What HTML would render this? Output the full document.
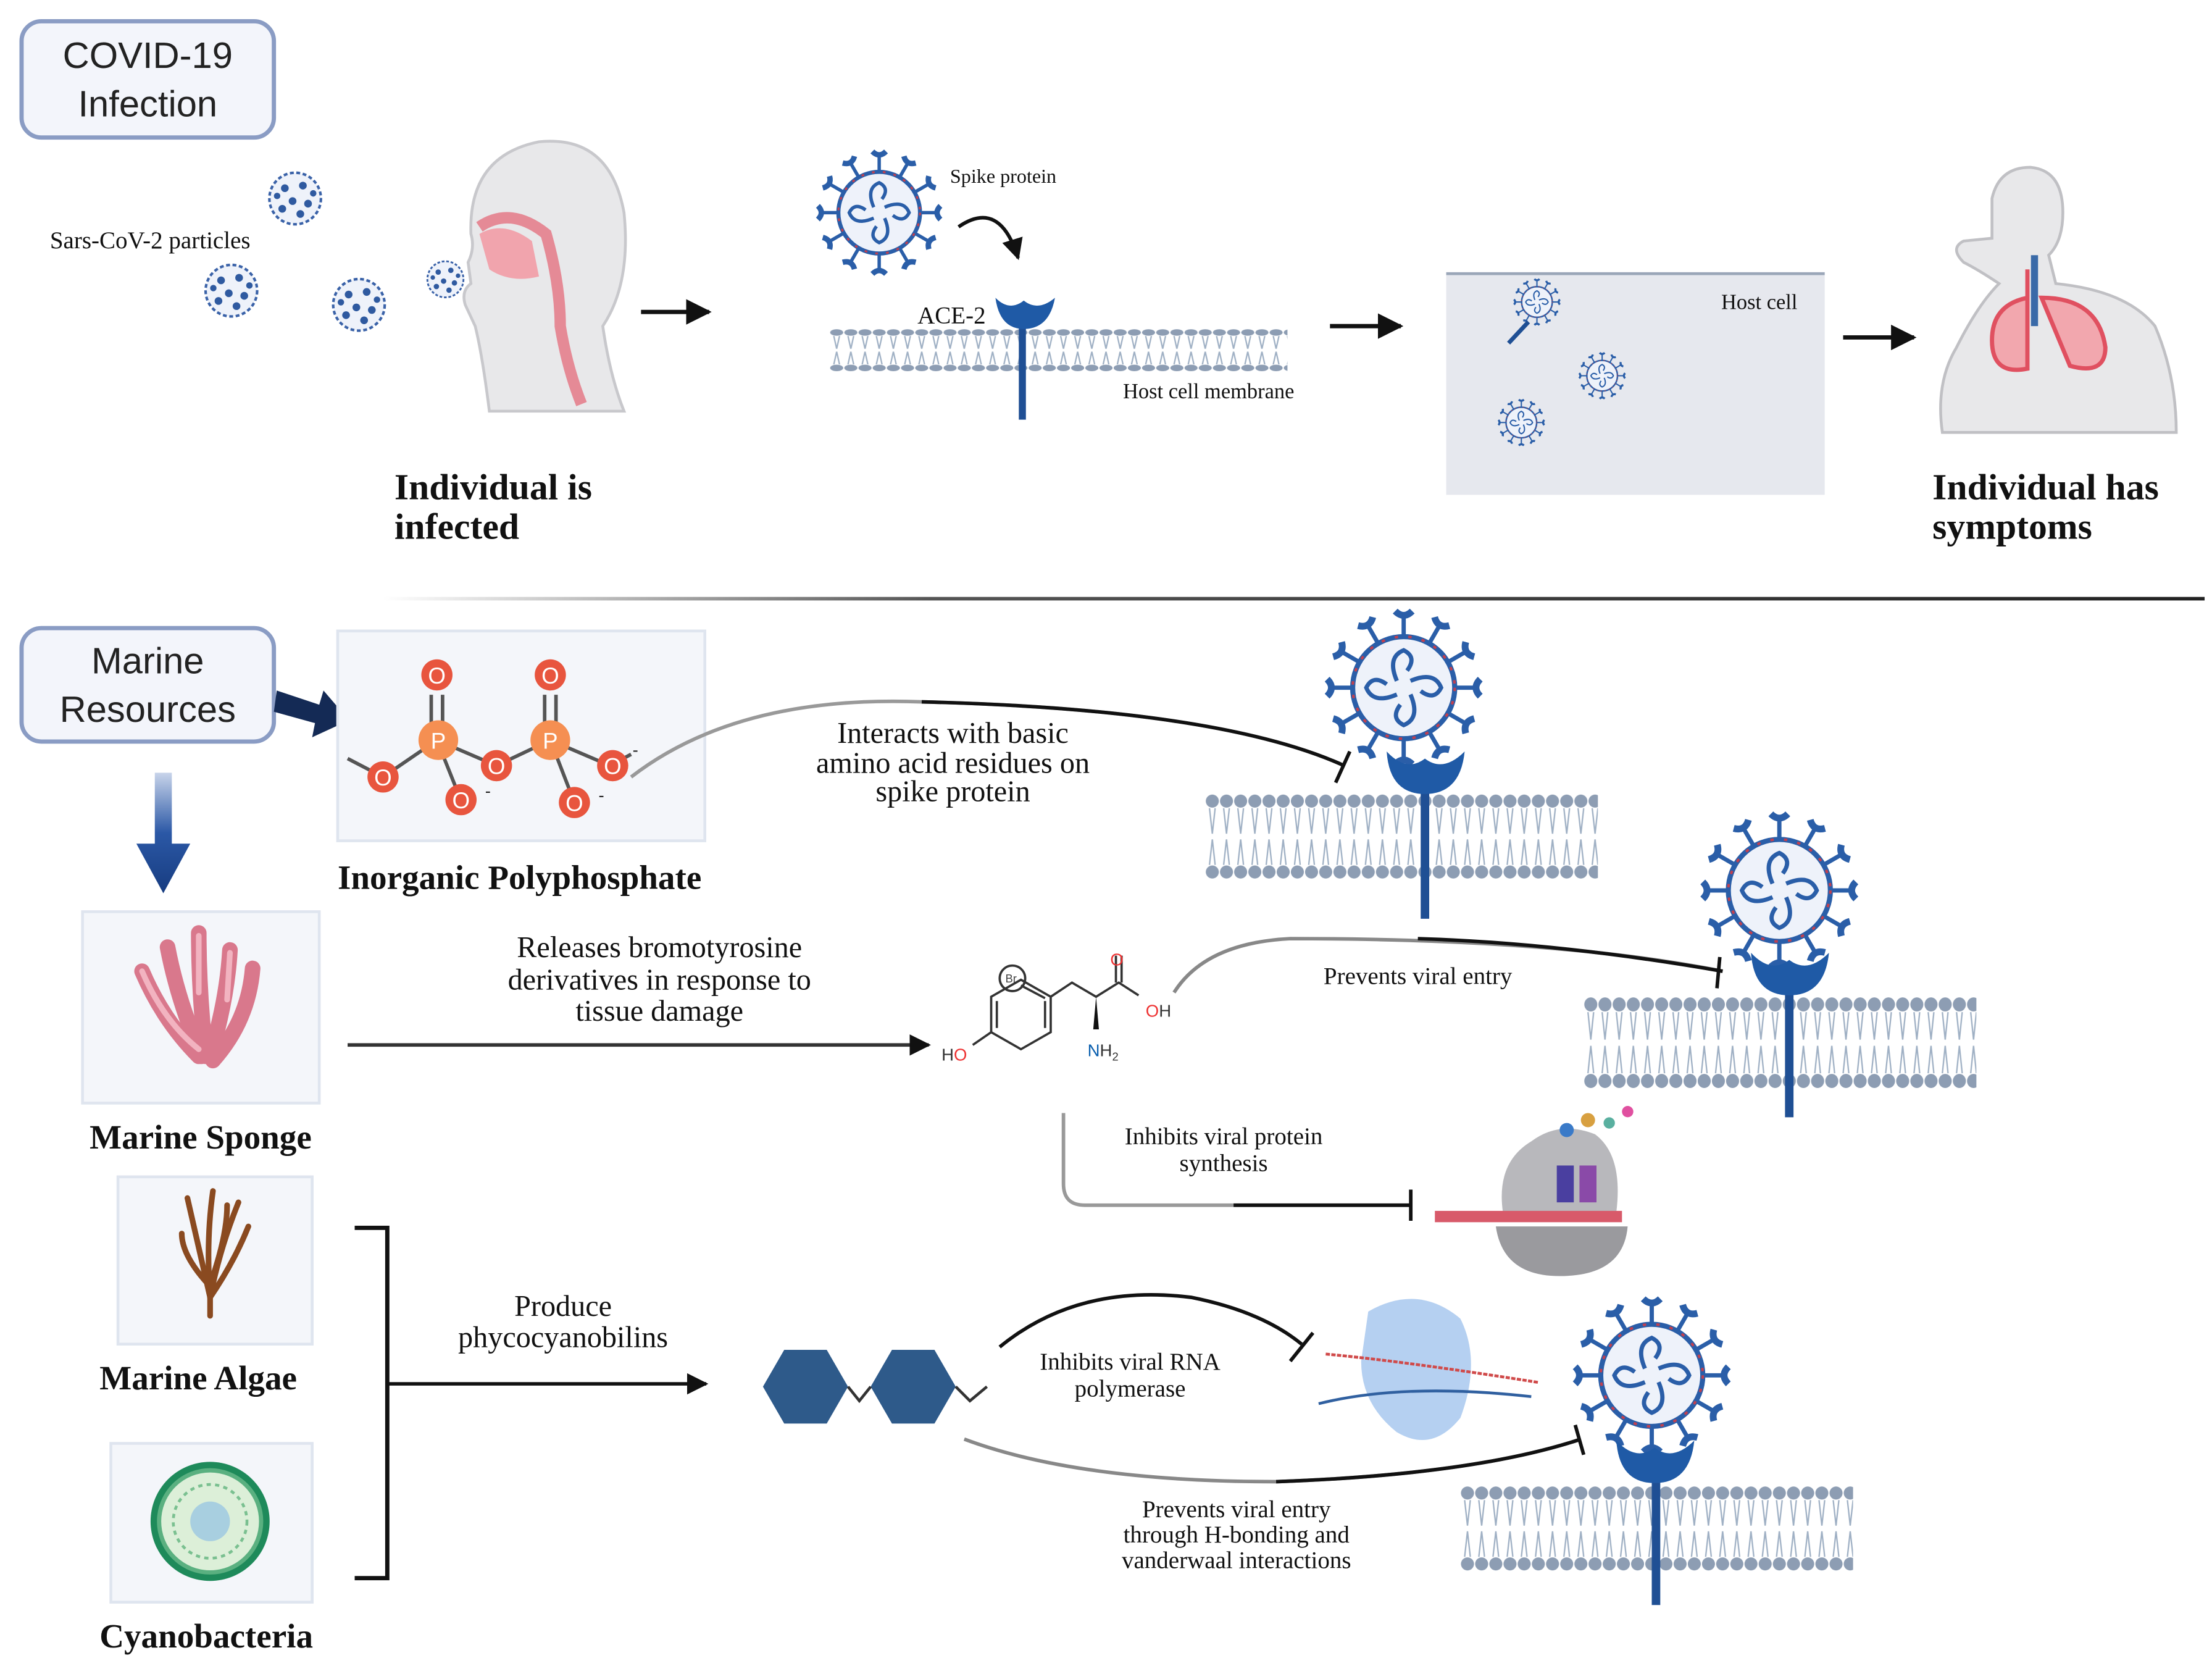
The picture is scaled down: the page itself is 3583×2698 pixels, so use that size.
<!DOCTYPE html>
<html><head><meta charset="utf-8"><style>
html,body{margin:0;padding:0;background:#fff}
svg{display:block}
.s{font-family:"Liberation Serif",serif;fill:#111}
.b{font-family:"Liberation Serif",serif;font-weight:bold;fill:#111}
.n{font-family:"Liberation Sans",sans-serif;fill:#222}
</style></head><body>
<svg width="3583" height="2698" viewBox="0 0 1560 1175" xmlns="http://www.w3.org/2000/svg">
<defs>
<symbol id="vir" viewBox="-50 -50 100 100">
 <g stroke="#2a5ea8" stroke-width="2.5" fill="none">
  <g id="sp"><line x1="0" y1="-30" x2="0" y2="-42"/><path d="M-5,-45 Q0,-40 5,-45" stroke-width="4"/></g>
  <use href="#sp" transform="rotate(30)"/><use href="#sp" transform="rotate(60)"/><use href="#sp" transform="rotate(90)"/>
  <use href="#sp" transform="rotate(120)"/><use href="#sp" transform="rotate(150)"/><use href="#sp" transform="rotate(180)"/>
  <use href="#sp" transform="rotate(210)"/><use href="#sp" transform="rotate(240)"/><use href="#sp" transform="rotate(270)"/>
  <use href="#sp" transform="rotate(300)"/><use href="#sp" transform="rotate(330)"/>
 </g>
 <circle r="30" fill="#eef2fa" stroke="#2a5ea8" stroke-width="3"/>
 <circle r="30" fill="none" stroke="#c04050" stroke-width="1.5" stroke-dasharray="2 6"/>
 <g stroke="#2a5ea8" stroke-width="2.5" fill="none">
  <path d="M-4,-4 q-6,-14 4,-18 q8,4 2,12"/><path d="M4,-4 q14,-6 18,4 q-4,8 -12,2"/>
  <path d="M4,4 q6,14 -4,18 q-8,-4 -2,-12"/><path d="M-4,4 q-14,6 -18,-4 q4,-8 12,-2"/>
 </g>
</symbol>
<symbol id="dot" viewBox="-22 -22 44 44">
 <circle r="20" fill="#eef2fa" stroke="#3a62a8" stroke-width="2" stroke-dasharray="3 2"/>
 <g fill="#2f5aa0"><circle cx="-8" cy="-8" r="3"/><circle cx="6" cy="-10" r="3"/><circle cx="10" cy="4" r="3"/><circle cx="-2" cy="2" r="3"/><circle cx="-10" cy="8" r="3"/><circle cx="4" cy="12" r="3"/><circle cx="-14" cy="-2" r="2.5"/><circle cx="14" cy="-4" r="2.5"/></g>
</symbol>
<pattern id="lip" width="10" height="60" patternUnits="userSpaceOnUse">
 <g stroke="#9fb0c4" stroke-width="1" fill="none"><path d="M3,10 L5,28 M7,10 L5,28 M3,50 L5,32 M7,50 L5,32"/></g>
 <circle cx="5" cy="5" r="4.6" fill="#8d9db3"/><circle cx="5" cy="55" r="4.6" fill="#8d9db3"/>
</pattern>
<marker id="ar" viewBox="0 0 10 10" refX="9" refY="5" markerWidth="6" markerHeight="6" orient="auto"><path d="M0,0 L10,5 L0,10 z" fill="#111"/></marker>
</defs>

<rect x="15" y="15" width="178" height="82" rx="14" fill="#f3f5fb" stroke="#8a9cc4" stroke-width="3"/>
<text class="n" x="104" y="48" font-size="26" text-anchor="middle">COVID-19</text>
<text class="n" x="104" y="82" font-size="26" text-anchor="middle">Infection</text>

<use href="#dot" x="188" y="120" width="40" height="40"/>
<use href="#dot" x="143" y="185" width="40" height="40"/>
<use href="#dot" x="233" y="195" width="40" height="40"/>
<use href="#dot" x="300" y="183" width="28" height="28"/>
<text class="s" x="35" y="175" font-size="17">Sars-CoV-2 particles</text>

<path d="M345,290 Q340,250 335,230 L328,215 Q325,205 332,200 L330,185 Q335,175 332,165 Q330,110 380,100 Q430,95 440,150 Q445,200 425,230 Q430,265 440,290 Z" fill="#e8e8ea" stroke="#c8c8cc" stroke-width="2"/>
<path d="M338,160 Q360,145 385,165 Q395,200 395,230 Q400,260 410,285" fill="none" stroke="#e58a96" stroke-width="8"/>
<path d="M338,165 Q355,155 375,170 L380,195 Q360,200 345,190 Z" fill="#f1a4ad"/>

<line x1="452" y1="220" x2="500" y2="220" stroke="#111" stroke-width="3" marker-end="url(#ar)"/>

<use href="#vir" x="572" y="102" width="96" height="96"/>
<text class="s" x="670" y="129" font-size="14">Spike protein</text>
<path d="M676,160 Q705,140 718,182" fill="none" stroke="#111" stroke-width="2.5" marker-end="url(#ar)"/>
<text class="s" x="647" y="228" font-size="17">ACE-2</text>
<g transform="translate(585,232) scale(1,0.5)"><rect width="323" height="60" fill="url(#lip)"/></g>
<line x1="721" y1="222" x2="721" y2="296" stroke="#1f4f94" stroke-width="5"/>
<path d="M702,210 Q705,232 722,232 Q740,232 744,210 Q732,220 722,212 Q712,220 702,210 Z" fill="#1f5aa6"/>
<text class="s" x="792" y="281" font-size="15">Host cell membrane</text>

<line x1="938" y1="230" x2="988" y2="230" stroke="#111" stroke-width="3" marker-end="url(#ar)"/>
<rect x="1020" y="192" width="267" height="157" fill="#e6e8ee"/>
<line x1="1020" y1="193" x2="1287" y2="193" stroke="#9aa6b8" stroke-width="2"/>
<text class="s" x="1214" y="218" font-size="15">Host cell</text>
<use href="#vir" x="1066" y="195" width="36" height="36"/>
<line x1="1078" y1="227" x2="1064" y2="242" stroke="#1f4f94" stroke-width="3"/>
<use href="#vir" x="1112" y="247" width="36" height="36"/>
<use href="#vir" x="1055" y="280" width="36" height="36"/>

<line x1="1300" y1="238" x2="1350" y2="238" stroke="#111" stroke-width="3" marker-end="url(#ar)"/>
<path d="M1405,140 Q1410,118 1432,118 Q1455,120 1455,150 Q1455,170 1445,180 L1450,200 Q1500,205 1520,230 Q1535,265 1535,305 L1370,305 Q1365,270 1380,245 Q1395,215 1410,200 Q1395,190 1385,185 Q1375,175 1385,170 L1405,168 Z" fill="#e8e8ea" stroke="#c0c0c4" stroke-width="2"/>
<path d="M1430,190 L1430,210 M1430,210 Q1405,215 1405,240 Q1405,265 1430,260 Z M1440,210 Q1480,210 1485,245 Q1485,265 1460,258 Z" fill="#f2a7ae" stroke="#e05060" stroke-width="3"/>
<line x1="1435" y1="180" x2="1435" y2="230" stroke="#3a6aa8" stroke-width="5"/>

<text class="b" x="278" y="352" font-size="26">Individual is</text>
<text class="b" x="278" y="380" font-size="26">infected</text>
<text class="b" x="1363" y="352" font-size="26">Individual has</text>
<text class="b" x="1363" y="380" font-size="26">symptoms</text>

<defs><linearGradient id="dl" x1="0" x2="1"><stop offset="0" stop-color="#fff"/><stop offset="0.3" stop-color="#555"/><stop offset="1" stop-color="#222"/></linearGradient></defs>
<rect x="270" y="421" width="1285" height="2.5" fill="url(#dl)"/>

<rect x="15" y="443" width="178" height="80" rx="14" fill="#f3f5fb" stroke="#8a9cc4" stroke-width="3"/>
<text class="n" x="104" y="475" font-size="26" text-anchor="middle">Marine</text>
<text class="n" x="104" y="509" font-size="26" text-anchor="middle">Resources</text>
<path d="M195,487 L225,497 L228,487 L246,508 L220,520 L222,510 L193,502 Z" fill="#142a55"/>
<defs><linearGradient id="dg" x1="0" y1="0" x2="0" y2="1"><stop offset="0" stop-color="#c8d4ea"/><stop offset="0.5" stop-color="#2b58a6"/><stop offset="1" stop-color="#173c80"/></linearGradient></defs>
<path d="M109,545 L121,545 L121,595 L134,595 L115,630 L96,595 L109,595 Z" fill="url(#dg)"/>

<rect x="238" y="445" width="259" height="148" fill="#f4f6fa" stroke="#dfe5ef" stroke-width="2"/>
<g stroke="#555" stroke-width="2.5" fill="none">
 <path d="M245,535 L270,548 L308,522 L324,562 M308,522 L350,540 L388,522 L405,566 M388,522 L430,540 L445,532 M304,490 L304,522 M312,490 L312,522 M384,490 L384,522 M392,490 L392,522"/>
</g>
<g font-family="Liberation Sans,sans-serif" font-size="16" fill="#fff" text-anchor="middle">
 <circle cx="309" cy="522" r="14" fill="#f58f52"/><text x="309" y="528">P</text>
 <circle cx="388" cy="522" r="14" fill="#f58f52"/><text x="388" y="528">P</text>
 <circle cx="308" cy="476" r="11" fill="#e8553e"/><text x="308" y="482">O</text>
 <circle cx="388" cy="476" r="11" fill="#e8553e"/><text x="388" y="482">O</text>
 <circle cx="270" cy="548" r="11" fill="#e8553e"/><text x="270" y="554">O</text>
 <circle cx="350" cy="540" r="11" fill="#e8553e"/><text x="350" y="546">O</text>
 <circle cx="325" cy="564" r="11" fill="#e8553e"/><text x="325" y="570">O</text>
 <circle cx="405" cy="566" r="11" fill="#e8553e"/><text x="405" y="572">O</text>
 <circle cx="432" cy="540" r="11" fill="#e8553e"/><text x="432" y="546">O</text>
</g>
<text class="n" x="342" y="562" font-size="12">-</text><text class="n" x="422" y="565" font-size="12">-</text><text class="n" x="446" y="533" font-size="12">-</text>
<text class="b" x="238" y="627" font-size="24">Inorganic Polyphosphate</text>

<path d="M445,548 Q520,490 650,495 Q860,500 948,540" fill="none" stroke="#999" stroke-width="2.5"/>
<path d="M650,495 Q860,500 948,540" fill="none" stroke="#111" stroke-width="2.5"/>
<line x1="942" y1="552" x2="952" y2="530" stroke="#111" stroke-width="2.5"/>
<text class="s" x="672" y="524" font-size="21" text-anchor="middle">Interacts with basic</text>
<text class="s" x="672" y="545" font-size="21" text-anchor="middle">amino acid residues on</text>
<text class="s" x="672" y="565" font-size="21" text-anchor="middle">spike protein</text>

<use href="#vir" x="930" y="425" width="120" height="120"/>
<g transform="translate(850,560)"><rect width="277" height="60" fill="url(#lip)"/></g>
<line x1="1005" y1="545" x2="1005" y2="648" stroke="#1f4f94" stroke-width="6"/>
<path d="M978,530 Q980,560 1005,560 Q1030,560 1033,530 Q1018,545 1005,535 Q992,545 978,530 Z" fill="#1f5aa6"/>

<rect x="58" y="643" width="167" height="135" fill="#f4f6fa" stroke="#dfe5ef" stroke-width="2"/>
<g stroke="#d9788c" stroke-width="11" stroke-linecap="round" fill="none">
 <path d="M140,745 Q115,720 100,685"/><path d="M142,745 Q125,705 118,668"/><path d="M145,745 Q140,700 140,658"/><path d="M148,745 Q160,705 162,670"/><path d="M150,748 Q175,720 178,683"/>
</g>
<g stroke="#f2b3c0" stroke-width="4" stroke-linecap="round" fill="none">
 <path d="M140,740 Q115,720 100,685"/><path d="M140,700 L140,660"/><path d="M160,705 L162,672"/>
</g>
<text class="b" x="63" y="810" font-size="24">Marine Sponge</text>

<text class="s" x="465" y="675" font-size="21" text-anchor="middle">Releases bromotyrosine</text>
<text class="s" x="465" y="698" font-size="21" text-anchor="middle">derivatives in response to</text>
<text class="s" x="465" y="720" font-size="21" text-anchor="middle">tissue damage</text>
<line x1="245" y1="737" x2="655" y2="737" stroke="#333" stroke-width="2.5" marker-end="url(#ar)"/>

<g stroke="#333" stroke-width="1.6" fill="none">
 <polygon points="741,703 741,728 720,740 699,728 699,703 720,691"/>
 <path d="M737,706 L737,725 M703,706 L703,725 M720,695 L737,704"/>
 <path d="M699,728 L686,737 M741,703 L756,693 L773,703 L789,693 L803,702 M787,693 L787,674 M791,693 L791,674"/>
 <circle cx="714" cy="690" r="9"/>
</g>
<path d="M773,703 L771,726 L775,726 Z" fill="#111"/>
<text x="709" y="693" font-family="Liberation Sans,sans-serif" font-size="8" fill="#444">Br</text>
<text x="664" y="748" font-family="Liberation Sans,sans-serif" font-size="12" fill="#333">H<tspan fill="#e33">O</tspan></text>
<text x="783" y="681" font-family="Liberation Sans,sans-serif" font-size="12" fill="#e33">O</text>
<text x="808" y="717" font-family="Liberation Sans,sans-serif" font-size="12" fill="#e33">O<tspan fill="#333">H</tspan></text>
<text x="767" y="745" font-family="Liberation Sans,sans-serif" font-size="12" fill="#0a5fae">N<tspan fill="#333">H</tspan><tspan fill="#333" font-size="8" dy="3">2</tspan></text>

<path d="M828,700 Q850,665 910,662 Q1100,662 1215,685" fill="none" stroke="#888" stroke-width="2.5"/>
<path d="M1000,662 Q1100,665 1215,685" fill="none" stroke="#111" stroke-width="2.5"/>
<line x1="1213" y1="675" x2="1211" y2="697" stroke="#111" stroke-width="2.5"/>
<text class="s" x="1000" y="694" font-size="17" text-anchor="middle">Prevents viral entry</text>
<use href="#vir" x="1195" y="568" width="120" height="120"/>
<g transform="translate(1117,703) scale(1,1.08)"><rect width="277" height="60" fill="url(#lip)"/></g>
<line x1="1262" y1="690" x2="1262" y2="788" stroke="#1f4f94" stroke-width="6"/>
<path d="M1235,672 Q1237,702 1262,702 Q1287,702 1290,672 Q1275,687 1262,677 Q1249,687 1235,672 Z" fill="#1f5aa6"/>

<path d="M750,785 L750,835 Q750,850 765,850 L995,850" fill="none" stroke="#999" stroke-width="2.5"/>
<line x1="870" y1="850" x2="995" y2="850" stroke="#111" stroke-width="2.5"/>
<line x1="995" y1="839" x2="995" y2="861" stroke="#111" stroke-width="2.5"/>
<text class="s" x="863" y="807" font-size="17" text-anchor="middle">Inhibits viral protein</text>
<text class="s" x="863" y="826" font-size="17" text-anchor="middle">synthesis</text>
<path d="M1060,855 Q1055,820 1080,805 Q1100,790 1125,800 Q1145,815 1140,855 Z" fill="#b8b8bc"/>
<path d="M1055,865 Q1060,900 1100,900 Q1145,900 1148,865 Z" fill="#9a9a9e"/>
<rect x="1012" y="854" width="132" height="8" fill="#d85a6a"/>
<rect x="1098" y="822" width="12" height="26" fill="#4a3fa0"/><rect x="1114" y="822" width="12" height="26" fill="#8a4aa8"/>
<circle cx="1105" cy="797" r="5" fill="#3a7ac8"/><circle cx="1120" cy="790" r="5" fill="#d8a040"/><circle cx="1135" cy="792" r="4" fill="#5ab0a0"/><circle cx="1148" cy="784" r="4" fill="#e050a0"/>

<rect x="83" y="830" width="137" height="118" fill="#f4f6fa" stroke="#dfe5ef" stroke-width="2"/>
<g stroke="#8a4a20" stroke-width="4" fill="none" stroke-linecap="round">
 <path d="M148,915 Q140,880 132,845"/><path d="M148,915 Q145,875 150,840"/><path d="M148,915 Q155,880 168,848"/><path d="M148,915 Q165,890 175,865"/><path d="M148,915 L148,928"/>
 <path d="M146,905 Q128,885 128,870"/><path d="M150,900 Q160,870 160,850"/>
</g>
<text class="b" x="70" y="980" font-size="24">Marine Algae</text>

<rect x="78" y="1018" width="142" height="112" fill="#f4f6fa" stroke="#dfe5ef" stroke-width="2"/>
<circle cx="148" cy="1073" r="42" fill="#1e8a5a"/><circle cx="148" cy="1073" r="36" fill="#dcefd8" stroke="#5ab080" stroke-width="3"/>
<circle cx="148" cy="1073" r="26" fill="none" stroke="#7ac090" stroke-width="2" stroke-dasharray="3 3"/>
<circle cx="148" cy="1073" r="14" fill="#a8cfe0"/>
<text class="b" x="70" y="1162" font-size="24">Cyanobacteria</text>

<path d="M250,866 L273,866 L273,1113 L250,1113" fill="none" stroke="#111" stroke-width="3"/>
<line x1="273" y1="976" x2="498" y2="976" stroke="#111" stroke-width="2.5" marker-end="url(#ar)"/>
<text class="s" x="397" y="928" font-size="21" text-anchor="middle">Produce</text>
<text class="s" x="397" y="950" font-size="21" text-anchor="middle">phycocyanobilins</text>

<polygon points="538,978 553,952 583,952 598,978 583,1004 553,1004" fill="#2e5a8a"/>
<polygon points="614,978 629,952 659,952 674,978 659,1004 629,1004" fill="#2e5a8a"/>
<path d="M598,978 L606,988 L614,978 M674,978 L684,988 L696,978" fill="none" stroke="#333" stroke-width="2"/>

<path d="M705,950 Q760,905 840,915 Q890,925 918,948" fill="none" stroke="#111" stroke-width="2.5"/>
<line x1="910" y1="960" x2="926" y2="940" stroke="#111" stroke-width="2.5"/>
<text class="s" x="797" y="966" font-size="17" text-anchor="middle">Inhibits viral RNA</text>
<text class="s" x="797" y="985" font-size="17" text-anchor="middle">polymerase</text>
<path d="M965,925 Q1000,905 1030,930 Q1045,960 1030,1000 Q1010,1025 985,1010 Q960,990 960,960 Z" fill="#a8c8ee" opacity="0.85"/>
<path d="M935,955 Q990,960 1085,975" fill="none" stroke="#d04a4a" stroke-width="2" stroke-dasharray="3 1"/>
<path d="M930,990 Q990,975 1080,985" fill="none" stroke="#3060a0" stroke-width="2"/>

<path d="M680,1015 Q760,1045 900,1045 Q1040,1040 1115,1015" fill="none" stroke="#888" stroke-width="2.5"/>
<path d="M900,1045 Q1040,1040 1115,1015" fill="none" stroke="#111" stroke-width="2.5"/>
<line x1="1111" y1="1005" x2="1117" y2="1026" stroke="#111" stroke-width="2.5"/>
<text class="s" x="872" y="1070" font-size="17" text-anchor="middle">Prevents viral entry</text>
<text class="s" x="872" y="1088" font-size="17" text-anchor="middle">through H-bonding and</text>
<text class="s" x="872" y="1106" font-size="17" text-anchor="middle">vanderwaal interactions</text>

<use href="#vir" x="1105" y="910" width="120" height="120"/>
<g transform="translate(1030,1048)"><rect width="277" height="60" fill="url(#lip)"/></g>
<line x1="1168" y1="1030" x2="1168" y2="1132" stroke="#1f4f94" stroke-width="6"/>
<path d="M1140,1016 Q1142,1046 1167,1046 Q1192,1046 1195,1016 Q1180,1031 1167,1021 Q1154,1031 1140,1016 Z" fill="#1f5aa6"/>
</svg>
</body></html>
